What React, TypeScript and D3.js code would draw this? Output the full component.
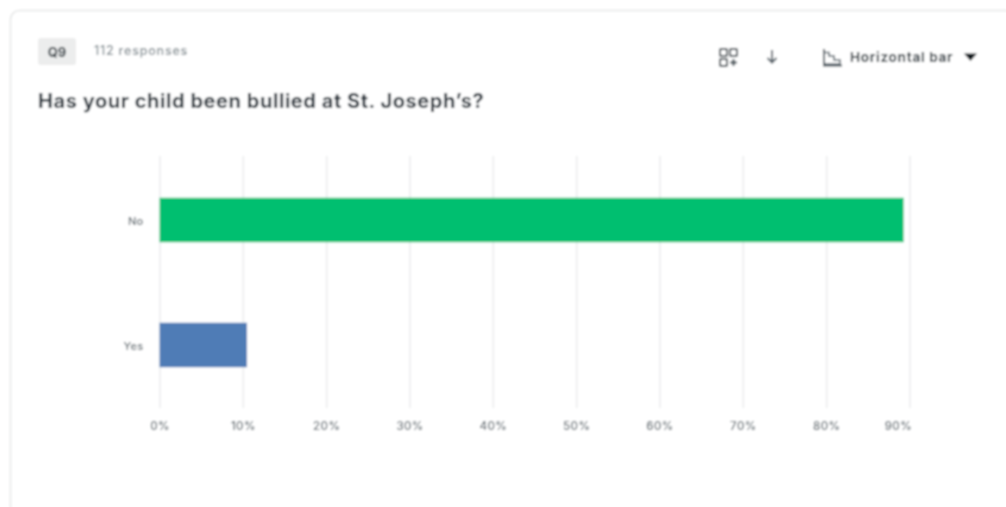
import React, { useRef, useEffect } from "react";
import { select, scaleLinear, scaleBand, axisBottom, axisLeft } from "d3";

const categories = ["No", "Yes"];
const percents = [89.3, 10.5];
const barColors = ["#00bf6f", "#507cb6"];
const xTicks = [0, 10, 20, 30, 40, 50, 60, 70, 80, 90];

const questionTag = "Q9";
const responses = "112 responses";
const title = "Has your child been bullied at St. Joseph\u2019s?";
const chartType = "Horizontal bar";

const FONT = "Inter, 'Noto Sans', sans-serif";

export default function App() {
  const chartRef = useRef<SVGGElement>(null);

  useEffect(() => {
    const g = select(chartRef.current);
    g.selectAll("*").remove();

    const x = scaleLinear().domain([0, 90]).range([159.5, 909.5]);
    const y = scaleBand()
      .domain(categories)
      .range([157.5, 407.5])
      .paddingInner(0.644)
      .paddingOuter(0.322);

    // gridlines and labels come from the axis, then get restyled
    const xAxis = axisBottom(x)
      .tickValues(xTicks)
      .tickSize(-252)
      .tickFormat((d) => d + "%");
    const xg = g.append("g").attr("transform", "translate(0,408)").call(xAxis as any);
    xg.select(".domain").remove();
    xg.selectAll("line").attr("stroke", "#eaebec").attr("stroke-width", 1.5);
    xg.selectAll("text")
      .attr("y", 22)
      .attr("dy", "0")
      .attr("fill", "#505c63")
      .style("font", `500 11.5px ${FONT}`)
      .style("letter-spacing", "0.4px");
    // last label is pulled back inside the plot, as in the original
    xg.selectAll("text")
      .filter((d) => d === xTicks[xTicks.length - 1])
      .attr("text-anchor", "end")
      .attr("x", 2);

    g.selectAll("rect.bar")
      .data(categories)
      .join("rect")
      .attr("class", "bar")
      .attr("x", x(0))
      .attr("y", (d) => y(d) as number)
      .attr("width", (d, i) => x(percents[i]) - x(0))
      .attr("height", y.bandwidth())
      .attr("fill", (d, i) => barColors[i]);

    const yAxis = axisLeft(y).tickSize(0).tickPadding(16);
    const yg = g.append("g").attr("transform", "translate(159.5,1)").call(yAxis as any);
    yg.select(".domain").remove();
    yg.selectAll("text")
      .attr("fill", "#505c63")
      .style("font", `500 11px ${FONT}`)
      .style("letter-spacing", "0.3px");
  }, []);

  return (
    <svg
      width={1006}
      height={507}
      style={{ position: "absolute", left: 0, top: 0, background: "#fff" }}
    >
      <defs>
        <filter id="soft" x="0" y="0" width="100%" height="100%">
          <feGaussianBlur stdDeviation="0.8" />
        </filter>
      </defs>
      <g filter="url(#soft)">
        <rect x={0} y={0} width={1006} height={507} fill="#fff" />
        <rect x={10.5} y={10.5} width={1040} height={560} rx={9} fill="#fff" stroke="#e6e7e7" strokeWidth={1.5} />

        <rect x={38} y={38} width={38} height={27} rx={3} fill="#eceded" />
        <text x={57} y={57} textAnchor="middle" fontFamily={FONT} fontSize={13} fontWeight={700} fill="#2f3a41">
          {questionTag}
        </text>
        <text x={94} y={55} fontFamily={FONT} fontSize={12.5} fontWeight={500} letterSpacing={0.8} fill="#7c878d">
          {responses}
        </text>
        <text x={38} y={108} fontFamily={FONT} fontSize={20} fontWeight={700} letterSpacing={0.55} fill="#26313a">
          {title}
        </text>

        {/* add-to-dashboard icon */}
        <g fill="none" stroke="#3f4b52" strokeWidth={2}>
          <rect x={720} y={49} width={7} height={7} rx={1} />
          <rect x={730} y={49} width={7} height={7} rx={1} />
          <rect x={720} y={59} width={7} height={7} rx={1} />
          <path d="M733.5 59v7M730 62.5h7" />
        </g>
        {/* download arrow */}
        <path d="M772 50v12M767.5 58l4.5 4.5 4.5-4.5" fill="none" stroke="#56626a" strokeWidth={2} />
        {/* chart type icon */}
        <path d="M824 49v16.5h18" fill="none" stroke="#3f4b52" strokeWidth={2} />
        <path d="M824 52.5h5v3.5h5v4h6v4h-16z" fill="none" stroke="#56626a" strokeWidth={1.5} />
        <text x={850} y={62} fontFamily={FONT} fontSize={13.5} fontWeight={700} letterSpacing={0.7} fill="#2f3a41">
          {chartType}
        </text>
        <path d="M964 53.5h13l-6.5 7.5z" fill="#11191d" />

        <g ref={chartRef} />
      </g>
    </svg>
  );
}
